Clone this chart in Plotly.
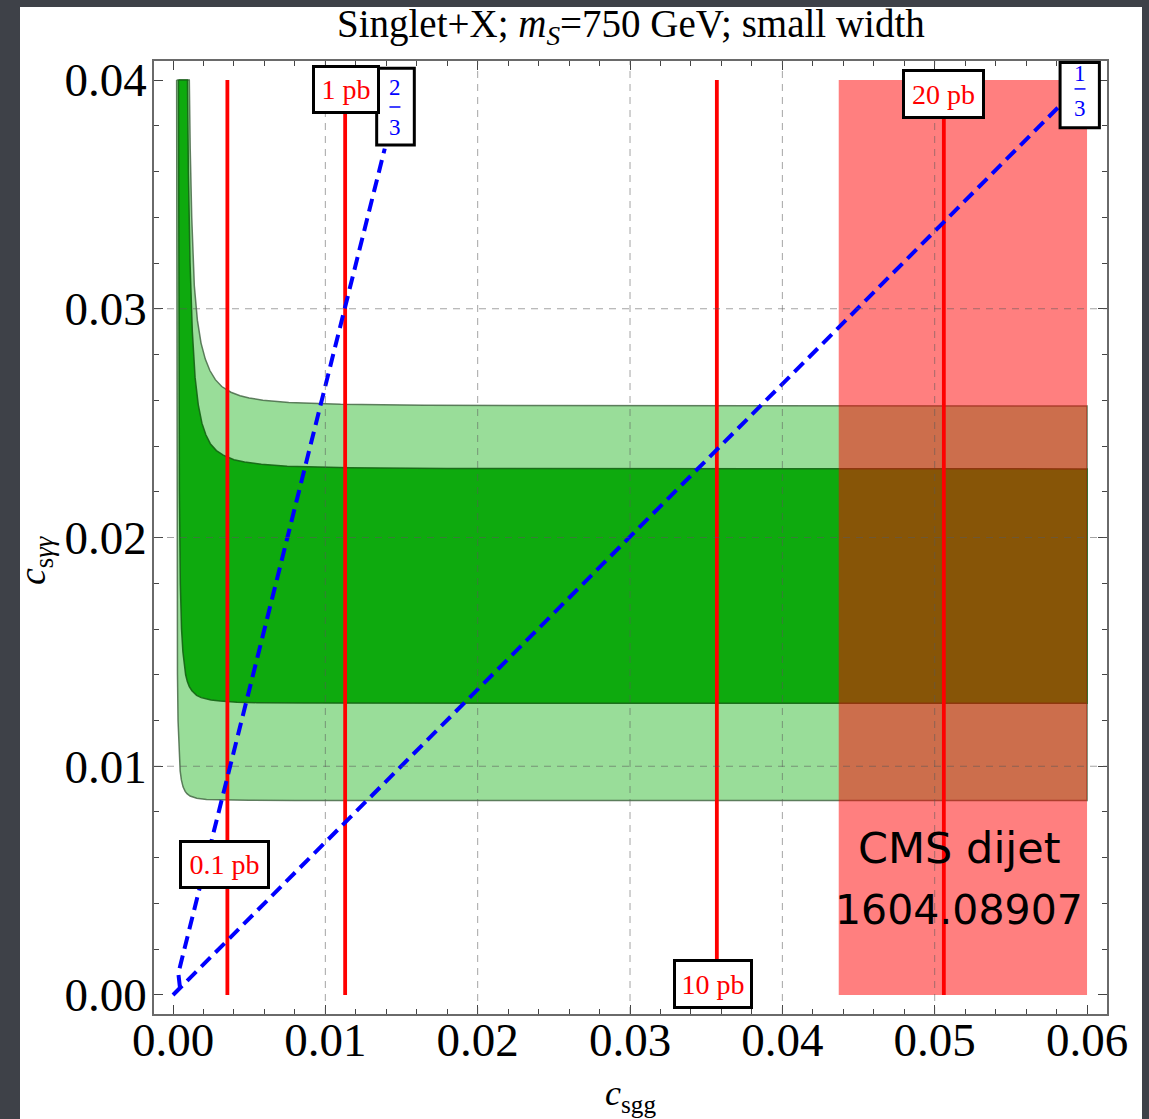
import plotly.graph_objects as go

# ---------------- data ----------------
X_TICKS = [0.00, 0.01, 0.02, 0.03, 0.04, 0.05, 0.06]
Y_TICKS = [0.00, 0.01, 0.02, 0.03, 0.04]
X_GRID = [0.01, 0.02, 0.03, 0.04, 0.05]
Y_GRID = [0.01, 0.02, 0.03]

# outer (light green) band: lower and upper boundaries, from the top (y=0.04) to the right edge
LO2_X = [0.00024, 0.000244, 0.000259, 0.000294, 0.000331, 0.00040, 0.00047, 0.00055, 0.00066, 0.00080,
         0.00092, 0.00112, 0.00156, 0.00220, 0.0034, 0.0050, 0.0080, 0.0600]
LO2_Y = [0.0400, 0.0300, 0.0200, 0.0140, 0.0120, 0.0105, 0.0098, 0.0094, 0.0091, 0.0089,
         0.0088, 0.0087, 0.0086, 0.00855, 0.00852, 0.00851, 0.008505, 0.0085]
HI2_X = [0.00107, 0.00113, 0.00123, 0.00140, 0.00160, 0.00184, 0.00212, 0.00242, 0.00278, 0.00320,
         0.00380, 0.00440, 0.00500, 0.00590, 0.00760, 0.0110, 0.0165, 0.0600]
HI2_Y = [0.0400, 0.0370, 0.0340, 0.0310, 0.0295, 0.0285, 0.0278, 0.0273, 0.0269, 0.0266,
         0.02635, 0.0262, 0.0261, 0.0260, 0.0259, 0.02582, 0.02578, 0.02575]

# inner (dark green) band
LO1_X = [0.00036, 0.00038, 0.00042, 0.00048, 0.00056, 0.00065, 0.00073, 0.00083, 0.00094, 0.00107,
         0.00124, 0.00155, 0.00185, 0.00250, 0.0031, 0.0042, 0.0055, 0.0085, 0.0600]
LO1_Y = [0.0400, 0.0300, 0.0220, 0.0180, 0.0160, 0.0150, 0.0144, 0.0140, 0.0137, 0.01348,
         0.0133, 0.0131, 0.0130, 0.0129, 0.01285, 0.0128, 0.01278, 0.01276, 0.01275]
HI1_X = [0.00095, 0.00101, 0.00112, 0.00127, 0.00145, 0.00166, 0.00190, 0.00215, 0.00245, 0.00285,
         0.00330, 0.00400, 0.00470, 0.00580, 0.00750, 0.0116, 0.0180, 0.0600]
HI1_Y = [0.0400, 0.0360, 0.0320, 0.0290, 0.0270, 0.0258, 0.0250, 0.0245, 0.0241, 0.0238,
         0.0236, 0.0234, 0.0233, 0.0232, 0.02312, 0.02305, 0.02302, 0.0230]

# cross-section contours (vertical red lines)
XSEC_LABELS = ["0.1 pb", "1 pb", "10 pb", "20 pb"]
XSEC_X = [0.00357, 0.0113, 0.0357, 0.0506]
XSEC_Y = [0.0, 0.04]
XSEC_LABEL_POS = [(0.00341, 0.00571), (0.01135, 0.03958), (0.03542, 0.00047), (0.05057, 0.03939)]

# CMS dijet exclusion
CMS_X = [0.0437, 0.0600]
CMS_Y = [0.0, 0.04]
CMS_TEXT = ["CMS dijet", "1604.08907"]

# ratio lines (blue dashed)
RATIO_NUM = ["2", "1"]
RATIO_DEN = ["3", "3"]
RATIO_X = [[0.00046, 0.00035, 0.0139], [0.0, 0.0581]]
RATIO_Y = [[0.00031, 0.00095, 0.0370], [0.0, 0.0388]]

# label box geometry for the fractions (data units)
FRAC_BOX = [(0.01337, 0.01584, 0.03716, 0.04051), (0.05823, 0.06081, 0.03791, 0.04076)]
FRAC_X = [0.01457, 0.05954]
FRAC_NUM_Y = [0.03968, 0.04030]
FRAC_BAR_Y = [0.03882, 0.03961]
FRAC_DEN_Y = [0.03793, 0.03876]

SERIF = "Liberation Serif, Times New Roman, serif"

fig = go.Figure()


def band(lx, ly, hx, hy, fill, line):
    xs = list(lx) + list(reversed(hx)) + [lx[0]]
    ys = list(ly) + list(reversed(hy)) + [ly[0]]
    fig.add_trace(go.Scatter(x=xs, y=ys, mode="lines", fill="toself",
                             fillcolor=fill, line=dict(color=line, width=1.5),
                             hoverinfo="skip", showlegend=False))


band(LO2_X, LO2_Y, HI2_X, HI2_Y, "rgb(153,221,153)", "rgba(70,105,70,0.85)")
band(LO1_X, LO1_Y, HI1_X, HI1_Y, "rgb(14,170,14)", "rgba(20,100,20,0.9)")

# CMS rectangle
fig.add_trace(go.Scatter(
    x=[CMS_X[0], CMS_X[1], CMS_X[1], CMS_X[0], CMS_X[0]],
    y=[CMS_Y[0], CMS_Y[0], CMS_Y[1], CMS_Y[1], CMS_Y[0]],
    mode="lines", fill="toself", fillcolor="rgba(255,0,0,0.5)",
    line=dict(width=0), hoverinfo="skip", showlegend=False))

# red lines
for xv in XSEC_X:
    fig.add_trace(go.Scatter(x=[xv, xv], y=XSEC_Y, mode="lines",
                             line=dict(color="rgb(255,0,0)", width=3.8),
                             hoverinfo="skip", showlegend=False))

# blue dashed lines
for xs, ys in zip(RATIO_X, RATIO_Y):
    fig.add_trace(go.Scatter(x=xs, y=ys, mode="lines",
                             line=dict(color="rgb(0,0,255)", width=4, dash="13px,7px"),
                             hoverinfo="skip", showlegend=False))

# plot area geometry (pixels)
W, H = 1149, 1119
L, R, T, B = 154, 42, 61, 105
PW = W - L - R
PH = H - T - B


def px(xp):
    return (xp - L) / PW


def py(yp):
    return (H - B - yp) / PH


shapes = [
    dict(type="rect", xref="paper", yref="paper", x0=px(20), x1=px(1142), y0=py(1125), y1=py(7),
         fillcolor="white", line=dict(width=0), layer="below"),
]
for g in X_GRID:
    shapes.append(dict(type="line", xref="x", yref="paper", x0=g, x1=g, y0=0, y1=1,
                       line=dict(color="rgba(90,90,90,0.55)", width=1, dash="7px,6px"), layer="above"))
for g in Y_GRID:
    shapes.append(dict(type="line", xref="paper", yref="y", x0=0, x1=1, y0=g, y1=g,
                       line=dict(color="rgba(90,90,90,0.55)", width=1, dash="7px,6px"), layer="above"))
# fraction boxes and bars
for (x0, x1, y0, y1), fx, by in zip(FRAC_BOX, FRAC_X, FRAC_BAR_Y):
    shapes.append(dict(type="rect", xref="x", yref="y", x0=x0, x1=x1, y0=y0, y1=y1,
                       fillcolor="white", line=dict(color="black", width=3), layer="above"))
    shapes.append(dict(type="line", xref="x", yref="y", x0=fx - 0.00036, x1=fx + 0.00036, y0=by, y1=by,
                       line=dict(color="blue", width=1.5), layer="above"))

annotations = []
box_sizes = [(85, 43), (62, 43), (74, 44), (77, 44)]
for lab, (ax, ay), (bw, bh) in zip(XSEC_LABELS, XSEC_LABEL_POS, box_sizes):
    annotations.append(dict(x=ax, y=ay, xref="x", yref="y", text=lab, showarrow=False,
                            font=dict(family=SERIF, size=28, color="red"),
                            bgcolor="white", bordercolor="black", borderwidth=3, borderpad=0,
                            width=bw, height=bh, xanchor="center", yanchor="middle"))

for num, den, fx, ny, dy in zip(RATIO_NUM, RATIO_DEN, FRAC_X, FRAC_NUM_Y, FRAC_DEN_Y):
    for txt, yy in ((num, ny), (den, dy)):
        annotations.append(dict(x=fx, y=yy, xref="x", yref="y", text=txt, showarrow=False,
                                font=dict(family=SERIF, size=23, color="blue"),
                                xanchor="center", yanchor="middle", borderpad=0))

# CMS dijet text
annotations.append(dict(x=0.05166, y=0.00643, xref="x", yref="y", text=CMS_TEXT[0], showarrow=False,
                        font=dict(family="DejaVu Sans", size=43, color="black"),
                        xanchor="center", yanchor="middle"))
annotations.append(dict(x=0.05160, y=0.00372, xref="x", yref="y", text=CMS_TEXT[1], showarrow=False,
                        font=dict(family="DejaVu Sans", size=41, color="black"),
                        xanchor="center", yanchor="middle"))

# title and axis titles
annotations.append(dict(x=0.5, y=py(27), xref="paper", yref="paper",
                        text="Singlet+X; <i>m</i><sub><i>S</i></sub>=750 GeV; small width",
                        showarrow=False, font=dict(family=SERIF, size=39, color="black"),
                        xanchor="center", yanchor="middle"))
annotations.append(dict(x=0.5, y=py(1095), xref="paper", yref="paper",
                        text="<i>c</i><sub>sgg</sub>",
                        showarrow=False, font=dict(family=SERIF, size=36, color="black"),
                        xanchor="center", yanchor="middle"))
annotations.append(dict(x=px(35), y=py(560), xref="paper", yref="paper",
                        text="<i>c</i><sub>s<i>γγ</i></sub>", textangle=-90,
                        showarrow=False, font=dict(family=SERIF, size=38, color="black"),
                        xanchor="center", yanchor="middle"))

axis_common = dict(
    showgrid=False, zeroline=False, showline=True, linecolor="#6a6a6a", linewidth=1.5,
    mirror="allticks", ticks="inside", ticklen=9, tickwidth=1.2, tickcolor="#444",
    tickformat=".2f", tickfont=dict(family=SERIF, size=47, color="black"),
    minor=dict(ticks="inside", ticklen=5, tickwidth=1, tickcolor="#444", dtick=0.002, showgrid=False),
)

fig.update_layout(
    width=W, height=H,
    margin=dict(l=L, r=R, t=T, b=B),
    paper_bgcolor="#3e4148",
    plot_bgcolor="white",
    showlegend=False,
    shapes=shapes,
    annotations=annotations,
    xaxis=dict(range=[-0.001247, 0.06131], tickvals=X_TICKS, ticklabelstandoff=-16, **axis_common),
    yaxis=dict(range=[-0.000831, 0.040831], tickvals=Y_TICKS, ticklabelstandoff=-4, **axis_common),
)

fig.write_html("out.html")
